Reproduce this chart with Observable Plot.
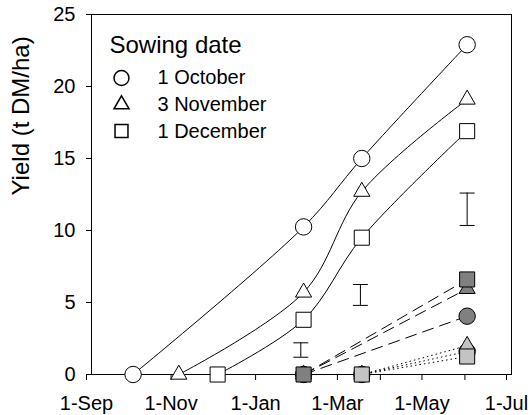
<!DOCTYPE html>
<html><head><meta charset="utf-8">
<script src="https://cdn.jsdelivr.net/npm/d3@7"></script>
<script src="https://cdn.jsdelivr.net/npm/@observablehq/plot@0.6"></script>
<style>body{margin:0;background:#fff;}</style>
</head><body><div id="chart"></div>
<script>
// ---- data ----
const sowingNames = ["1 October", "3 November", "1 December"];
const sowingDates = ["2001-10-01", "2001-11-03", "2001-12-01"];
const harvestDates = ["2002-02-01", "2002-03-15", "2002-05-30"];
const yieldOct = [0, 10.25, 15.0, 22.9];
const yieldNov = [0, 5.7, 12.7, 19.1];
const yieldDec = [0, 3.8, 9.5, 16.9];
// regrowth at final harvest after a cut on the first / second harvest date
const regrowthAfterFeb = [4.05, 5.95, 6.6];
const regrowthAfterMar = [1.6, 2.0, 1.25];
const lsdDates = ["2002-01-30", "2002-03-14", "2002-05-30"];
const lsdLow = [1.2, 4.8, 10.35];
const lsdHigh = [2.2, 6.25, 12.6];
const yTicks = [0, 5, 10, 15, 20, 25];
const xTicks = ["2001-09-01","2001-10-01","2001-11-01","2001-12-01","2002-01-01","2002-02-01",
                "2002-03-01","2002-04-01","2002-05-01","2002-06-01","2002-07-01"];
const xDomain = ["2001-09-01", "2002-07-01"];
const legendTitle = "Sowing date";
const yLabel = "Yield (t DM/ha)";

// ---- styling ----
const symbols = ["circle", "triangle", "square"];
const radii = [8.2, 6, 8.5];
const legendRadii = [7.5, 5.6, 7.3];
const darkFill = "#808080", lightFill = "#c3c3c3";
const font = "'Liberation Sans', Arial, sans-serif";

const D = s => new Date(s + "T00:00:00Z");
const series = [yieldOct, yieldNov, yieldDec];
const mainRows = sowingNames.flatMap((name, i) =>
  [sowingDates[i], ...harvestDates].map((d, j) => ({name, i, date: D(d), y: series[i][j]})));
const febLinks = sowingNames.map((name, i) => ({name, i, x1: D(harvestDates[0]), y1: 0, x2: D(harvestDates[2]), y2: regrowthAfterFeb[i]}));
const marLinks = sowingNames.map((name, i) => ({name, i, x1: D(harvestDates[1]), y1: 0, x2: D(harvestDates[2]), y2: regrowthAfterMar[i]}));
const febPts = febLinks.flatMap(l => [{i: l.i, date: l.x1, y: l.y1}, {i: l.i, date: l.x2, y: l.y2}]);
const marPts = marLinks.flatMap(l => [{i: l.i, date: l.x1, y: l.y1}, {i: l.i, date: l.x2, y: l.y2}]);
const lsd = lsdDates.map((d, k) => ({date: D(d), low: lsdLow[k], high: lsdHigh[k]}));

const capSymbol = {draw(context, size) { const w = Math.sqrt(size / Math.PI); context.moveTo(-w, 0); context.lineTo(w, 0); }};
const fmt = d3.utcFormat("%-d-%b");

const dotsFor = (rows, fill) => symbols.map((s, i) =>
  Plot.dot(rows.filter(r => r.i === i), {x: "date", y: "y", symbol: s, r: radii[i], fill, stroke: "black", strokeWidth: 1}));

const legendMarks = [
  Plot.text([legendTitle], {frameAnchor: "top-left", dx: 18, dy: 31, text: d => d, fontSize: 24, textAnchor: "start", lineAnchor: "middle", fill: "black"}),
  ...sowingNames.flatMap((name, i) => [
    Plot.dot([name], {frameAnchor: "top-left", dx: 30, dy: 63.5 + i * 26.5, symbol: symbols[i], r: legendRadii[i], fill: "white", stroke: "black"}),
    Plot.text([name], {frameAnchor: "top-left", dx: 66, dy: 63 + i * 27, text: d => d, fontSize: 20, textAnchor: "start", lineAnchor: "middle", fill: "black"})
  ])
];

const chart = Plot.plot({
  width: 530, height: 415,
  marginLeft: 91, marginRight: 19, marginTop: 14, marginBottom: 41,
  style: {fontFamily: font, fontSize: "20px", color: "black", background: "white"},
  x: {type: "utc", domain: xDomain.map(D)},
  y: {domain: [0, 25]},
  marks: [
    Plot.axisY({ticks: yTicks, tickSize: 5, tickPadding: 11, label: null, stroke: "black", fill: "black"}),
    Plot.axisX({ticks: xTicks.map(D), tickSize: 6, tickPadding: 15, label: null, stroke: "black", fill: "black", dx: -5,
      tickFormat: d => d.getUTCMonth() % 2 === 0 ? fmt(d) : ""}),
    Plot.text([yLabel], {frameAnchor: "left", dx: -70, dy: 1, rotate: -90, text: d => d, fontSize: 24, fill: "black", lineAnchor: "middle"}),
    Plot.frame({stroke: "black", strokeWidth: 1}),
    Plot.line(mainRows, {x: "date", y: "y", z: "name", curve: "catmull-rom", stroke: "black", strokeWidth: 1}),
    Plot.link(febLinks, {x1: "x1", y1: "y1", x2: "x2", y2: "y2", stroke: "black", strokeWidth: 1, strokeDasharray: "12,6"}),
    Plot.link(marLinks, {x1: "x1", y1: "y1", x2: "x2", y2: "y2", stroke: "black", strokeWidth: 1, strokeDasharray: "1.5,3"}),
    Plot.ruleX(lsd, {x: "date", y1: "low", y2: "high", stroke: "black", strokeWidth: 1}),
    Plot.dot(lsd, {x: "date", y: "low", symbol: capSymbol, r: 7.5, stroke: "black", strokeWidth: 1}),
    Plot.dot(lsd, {x: "date", y: "high", symbol: capSymbol, r: 7.5, stroke: "black", strokeWidth: 1}),
    ...dotsFor(mainRows, "white"),
    ...dotsFor(febPts, darkFill),
    ...dotsFor(marPts, lightFill),
    ...legendMarks
  ]
});
document.getElementById("chart").appendChild(chart);
</script>
</body></html>
